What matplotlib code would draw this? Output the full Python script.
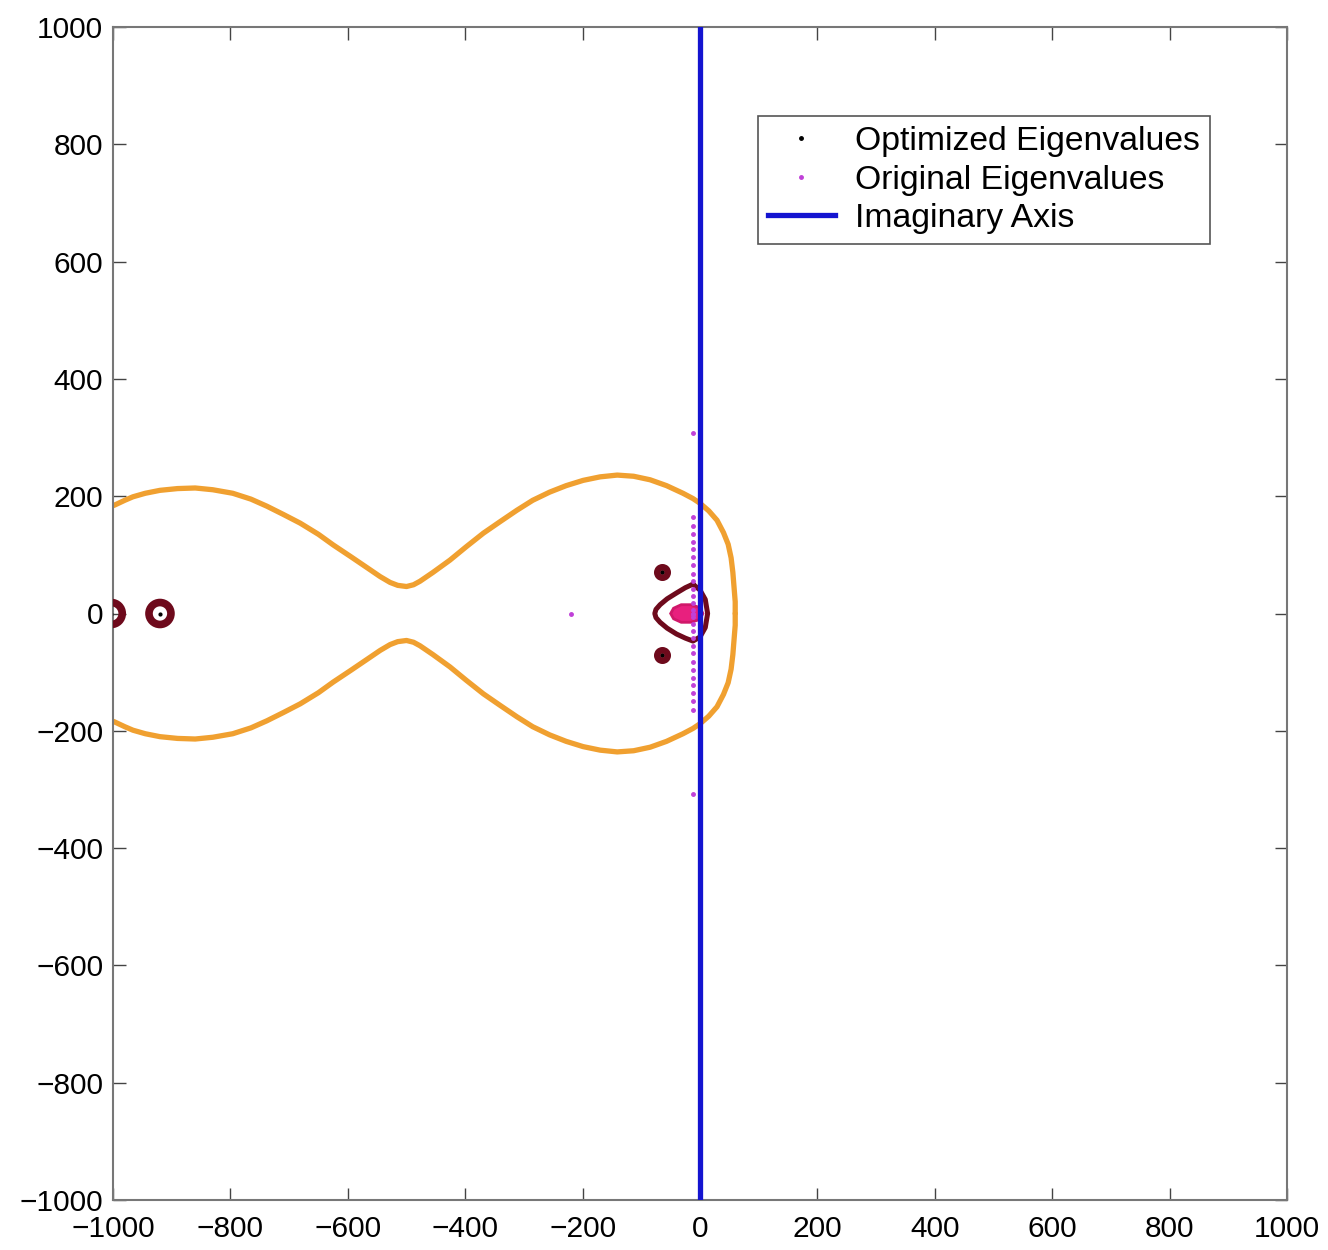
import matplotlib.pyplot as plt
from matplotlib.lines import Line2D

plt.rcParams['font.family'] = ['Liberation Sans', 'DejaVu Sans']

# outer level curve (upper half; the lower half is its mirror image)
orange_x = [-1010, -997, -980, -966, -945, -920, -890, -860, -830, -796, -765,
            -738, -710, -681, -650, -625, -595, -567, -545, -528, -515, -500,
            -488, -477, -455, -426, -398, -369, -340, -312, -285, -256, -228,
            -199, -170, -141, -113, -85, -57, -29, -12, 0, 15, 29, 40, 48, 53,
            56, 58, 60, 60]
orange_y = [180, 185, 193, 199, 205, 210, 213, 214, 211, 205, 195,
            183, 169, 154, 135, 117, 97, 78, 63, 53, 48, 46,
            49, 55, 70, 91, 114, 137, 157, 176, 193, 207, 218,
            227, 233, 236, 234, 228, 218, 205, 196, 188, 175, 159, 138, 118, 95,
            70, 45, 20, 0]

# inner level curve around the eigenvalues near the origin
inner_x = [-12, -25, -40, -56, -68, -75, -77, -75, -68, -56, -40, -25, -12,
           0, 9, 13, 9, 0, -12]
inner_y = [50, 44, 35, 25, 15, 7, 0, -7, -15, -25, -35, -42, -47,
           -40, -24, 0, 24, 40, 50]

# innermost region
core_x = [-50, -45, -32, -15, 0, 5, 0, -15, -32, -45, -50]
core_y = [0, 9, 15, 15, 10, 0, -10, -15, -15, -9, 0]

# isolated level rings around far eigenvalues
ring_re = [-920, -1003]
ring_im = [0, 0]
small_ring_re = [-65, -65]
small_ring_im = [70, -70]

# optimized eigenvalues
opt_re = [-920, -1003, -65, -65]
opt_im = [0, 0, 70, -70]

# original eigenvalues (upper half-plane; conjugates added below)
orig_re_half = [-12] * 14 + [-12]
orig_im_half = [6, 18, 30, 42, 55, 68, 82, 96, 110, 122, 135, 150, 165, 0, 307]
orig_extra_re = [-220]
orig_extra_im = [0]

orig_re = orig_re_half + orig_re_half + orig_extra_re
orig_im = orig_im_half + [-v for v in orig_im_half] + orig_extra_im

fig = plt.figure(figsize=(13.28, 12.5), dpi=100)
ax = fig.add_axes([0.0851, 0.04, 0.884, 0.9384])

orange = '#f0a030'
darkred = '#6e0a1c'
pink = '#e8207e'
blue = '#1414d0'
purple = '#c040d8'

ax.plot(orange_x, orange_y, color=orange, lw=3.8, solid_capstyle='round',
        solid_joinstyle='round')
ax.plot(orange_x, [-v for v in orange_y], color=orange, lw=3.8,
        solid_capstyle='round', solid_joinstyle='round')

ax.plot(inner_x, inner_y, color=darkred, lw=3.6, solid_joinstyle='round')
ax.fill(core_x, core_y, color=pink, lw=2, ec='#d0186a')

ax.scatter(ring_re, ring_im, s=250, facecolors='none', edgecolors=darkred,
           linewidths=5.5, zorder=3)
ax.scatter(small_ring_re, small_ring_im, s=60, facecolors='#c05060',
           edgecolors=darkred, linewidths=4.5, zorder=3)

ax.plot(orig_re, orig_im, '.', color=purple, ms=5, zorder=4)
ax.plot(opt_re, opt_im, '.', color='black', ms=4, zorder=5)

ax.axvline(0, color=blue, lw=3.8, zorder=6)

ax.set_xlim(-1000, 1000)
ax.set_ylim(-1000, 1000)
ax.set_xticks(range(-1000, 1001, 200))
ax.set_yticks(range(-1000, 1001, 200))
ax.tick_params(direction='in', length=9, width=1, labelsize=21.5, pad=7,
               top=True, right=True, color='#444444')
ax.tick_params(axis='x', pad=11)
for s in ax.spines.values():
    s.set_color('#777777')
    s.set_linewidth(1.5)

handles = [
    Line2D([], [], ls='none', marker='.', color='black', ms=5),
    Line2D([], [], ls='none', marker='.', color=purple, ms=5),
    Line2D([], [], color=blue, lw=3.8),
]
labels = ['Optimized Eigenvalues', 'Original Eigenvalues', 'Imaginary Axis']
leg = ax.legend(handles, labels, loc='upper left', bbox_to_anchor=(0.549, 0.924),
                fontsize=24.3, fancybox=False, framealpha=1, edgecolor='#555555',
                borderpad=0.3, labelspacing=0.22, handlelength=2.0,
                handletextpad=0.6, borderaxespad=0)
leg.get_frame().set_linewidth(1.2)

fig.savefig('out.png', dpi=100)
